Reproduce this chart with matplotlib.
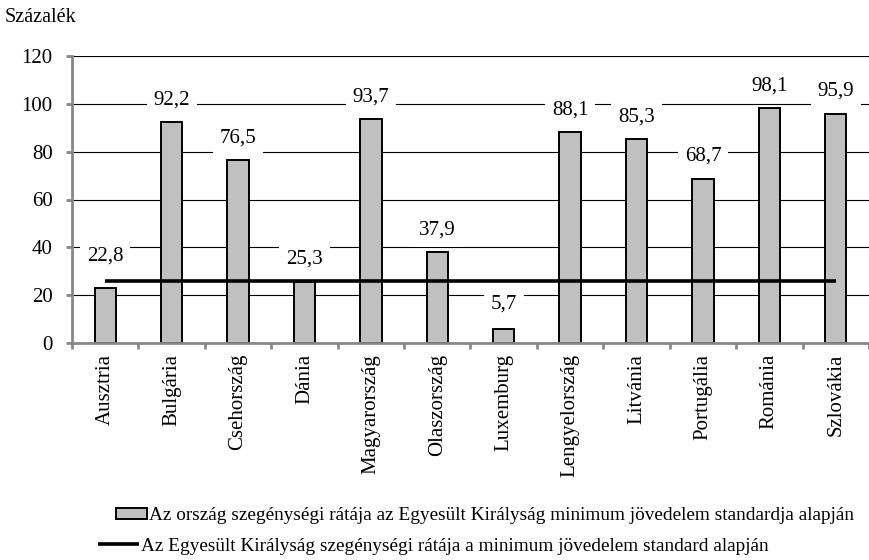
import matplotlib
matplotlib.use("Agg")
import matplotlib.pyplot as plt
import numpy as np

countries = ["Ausztria", "Bulgária", "Csehország", "Dánia", "Magyarország",
             "Olaszország", "Luxemburg", "Lengyelország", "Litvánia",
             "Portugália", "Románia", "Szlovákia"]
rates = [22.8, 92.2, 76.5, 25.3, 93.7, 37.9, 5.7, 88.1, 85.3, 68.7, 98.1, 95.9]
uk_rate = 26.0
yticks = [0, 20, 40, 60, 80, 100, 120]
bar_label = "Az ország szegénységi rátája az Egyesült Királyság minimum jövedelem standardja alapján"
line_label = "Az Egyesült Királyság szegénységi rátája a minimum jövedelem standard alapján"
ylabel_txt = "Százalék"

plt.rcParams['font.family'] = ['Liberation Serif', 'DejaVu Serif']

fig = plt.figure(figsize=(8.69, 5.60), dpi=100)
ax = fig.add_axes([72/869, 217/560, 797/869, 287/560])

x = np.arange(len(countries))
ax.set_axisbelow(True)
ax.yaxis.grid(True, color='black', linewidth=0.8)
bars = ax.bar(x, rates, width=0.32, color='#c0c0c0', edgecolor='black',
              linewidth=1.4, zorder=2)
line, = ax.plot([x[0], x[-1]], [uk_rate, uk_rate], color='black',
                linewidth=2.6, zorder=3, solid_capstyle='butt')

offsets = [23, 16, 16, 17, 16, 16, 18, 16, 16, 16, 16, 16]
for xi, v, off in zip(x, rates, offsets):
    ax.annotate(f"{v:.1f}".replace('.', ','), (xi, v), xytext=(0, off),
                textcoords='offset points', ha='center', va='center',
                fontsize=15, zorder=4,
                bbox=dict(boxstyle='square,pad=0.33', fc='white', ec='none'))

ax.set_xlim(-0.5, len(countries) - 0.5)
ax.set_ylim(0, 120)
ax.set_yticks(yticks)
ax.set_yticklabels([str(t) for t in yticks], fontsize=15)
ax.set_xticks(x)
ax.set_xticklabels(countries, rotation=90, fontsize=15, va='top', ha='center')
ax.set_xticks(np.arange(-0.5, len(countries) + 0.5, 1), minor=True)
ax.tick_params(axis='x', which='major', length=0, pad=8)
ax.tick_params(axis='x', which='minor', length=4, width=2, color='#888888')
ax.tick_params(axis='y', length=4, width=2, color='#888888', pad=10)

for s in ['top', 'right']:
    ax.spines[s].set_visible(False)
for s in ['left', 'bottom']:
    ax.spines[s].set_color('#888888')
    ax.spines[s].set_linewidth(2)
ax.spines['bottom'].set_zorder(5)

fig.text(5/869, 1 - 18/560, ylabel_txt, fontsize=14.5, ha='left', va='center')

fig.legend(handles=[bars], labels=[bar_label], loc='center left',
           bbox_to_anchor=(116/869, 1 - 516/560), frameon=False, fontsize=13.9,
           borderpad=0, borderaxespad=0, handlelength=1.6, handleheight=0.55,
           handletextpad=0.12)
fig.legend(handles=[line], labels=[line_label], loc='center left',
           bbox_to_anchor=(98/869, 1 - 546/560), frameon=False, fontsize=13.9,
           borderpad=0, borderaxespad=0, handlelength=2.1,
           handletextpad=0.12)

fig.savefig("out.png", dpi=100)
